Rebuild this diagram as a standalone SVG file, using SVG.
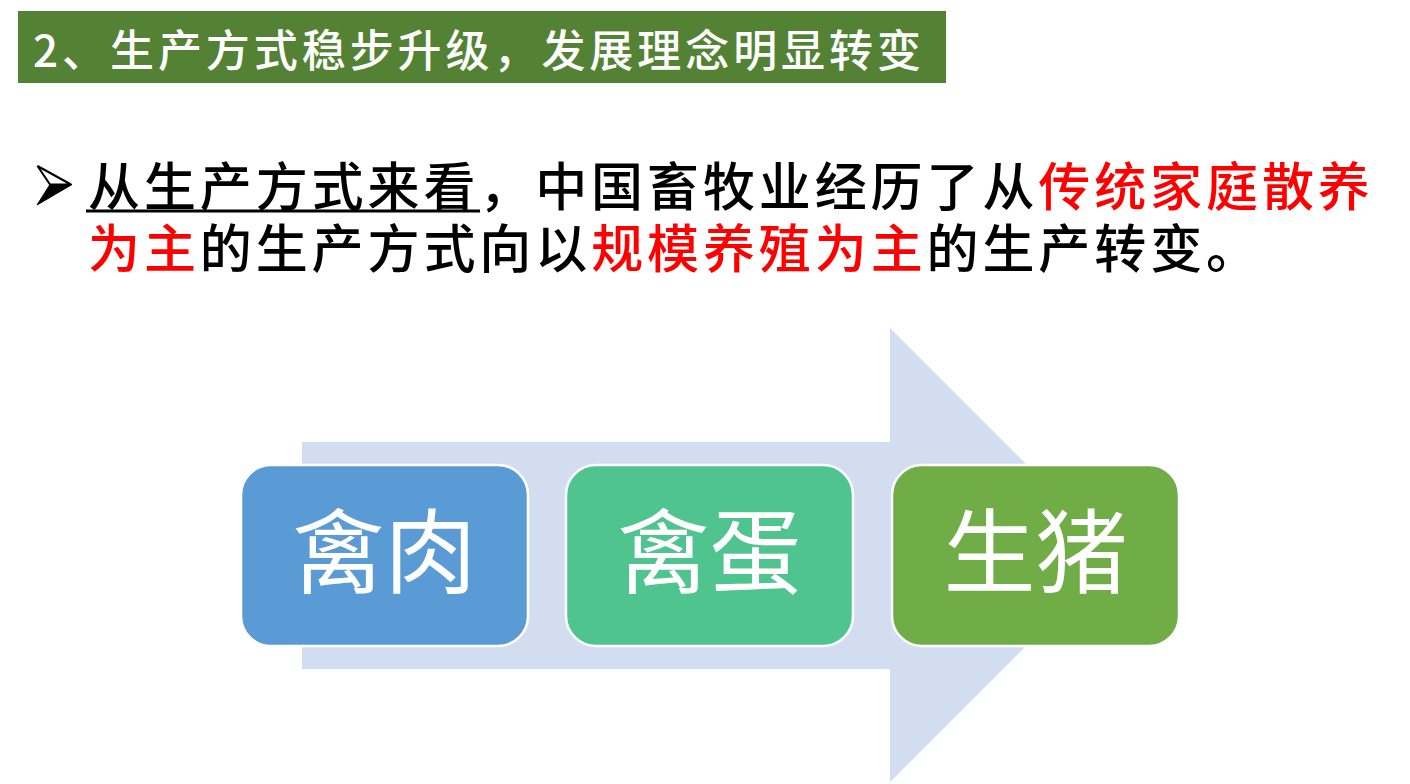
<svg xmlns="http://www.w3.org/2000/svg" width="1410" height="784" viewBox="0 0 1410 784">
<style>
.cjk{font-family:"Noto Sans CJK SC","Noto Sans CJK TC",sans-serif;}
.body{font-size:52px;fill:#000;letter-spacing:3.9px;font-weight:500;}
.red{fill:#FF0000;}
.box{stroke:#FFFFFF;stroke-width:2.5;}
.lbl{font-size:92px;fill:#FFFFFF;text-anchor:middle;}
</style>
<rect width="1410" height="784" fill="#FFFFFF"/>
<g id="title">
<rect x="18" y="11" width="928" height="72" fill="#548235"/>
<text class="cjk" x="33" y="67" font-size="44" font-weight="500" fill="#FFFFFF" textLength="888" lengthAdjust="spacing">2、生产方式稳步升级，发展理念明显转变</text>
</g>
<g id="bullet">
<polygon points="37.5,166 71,184.5 50,184.5" fill="#FFFFFF" stroke="#000" stroke-width="2" stroke-linejoin="miter"/>
<polygon points="50,184.5 72,184.5 37,205" fill="#000" stroke="#000" stroke-width="1"/>
<text class="cjk body" x="88" y="206">从生产方式来看，中国畜牧业经历了从<tspan class="red">传统家庭散养</tspan></text>
<line x1="86" y1="211" x2="480" y2="211" stroke="#000" stroke-width="3"/>
<text class="cjk body" x="88" y="268"><tspan class="red">为主</tspan>的生产方式向以<tspan class="red">规模养殖为主</tspan>的生产转变。</text>
</g>
<g id="connectors">
<polygon points="302,442 890,442 890,328 1117,555 890,782 890,669 302,669" fill="#D2DEEF"/>
</g>
<g id="node-1">
<rect class="box" x="241" y="465" width="287" height="181" rx="30" fill="#5B9BD5"/>
<text class="cjk lbl" x="384.5" y="586">禽肉</text>
</g>
<g id="node-2">
<rect class="box" x="566" y="465" width="287" height="181" rx="30" fill="#4FC48E"/>
<text class="cjk lbl" x="709.5" y="586">禽蛋</text>
</g>
<g id="node-3">
<rect class="box" x="892" y="465" width="287" height="181" rx="30" fill="#70AD47"/>
<text class="cjk lbl" x="1035.5" y="586">生猪</text>
</g>
</svg>
